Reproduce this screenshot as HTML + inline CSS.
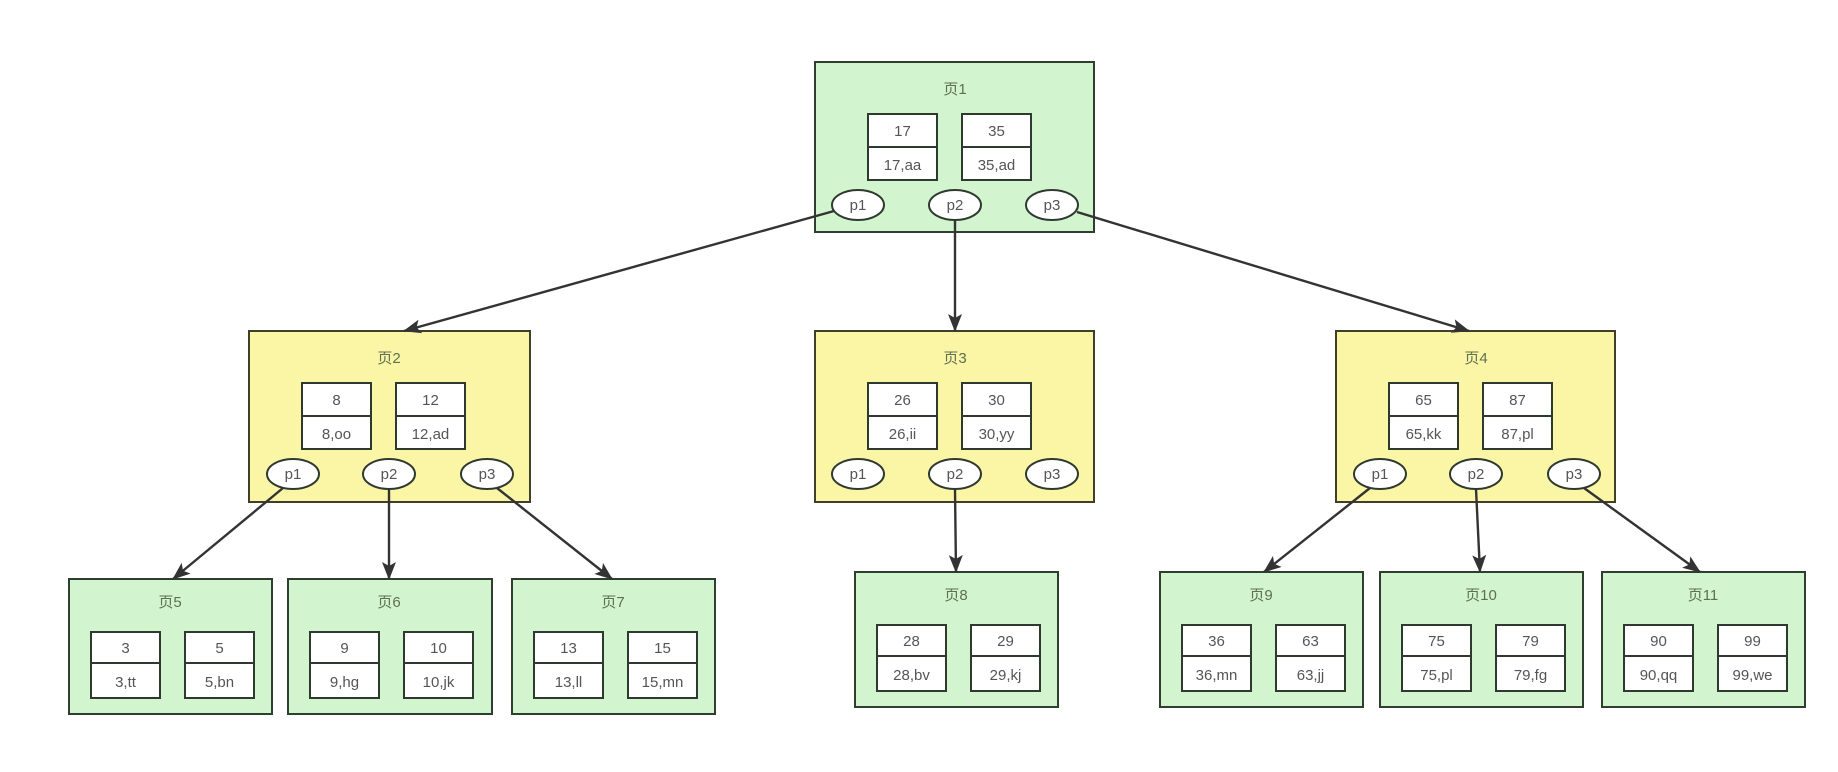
<!DOCTYPE html>
<html><head><meta charset="utf-8"><style>
html,body{margin:0;padding:0;background:#fff;width:1838px;height:772px;overflow:hidden}
svg text{font-family:"Liberation Sans","Noto Sans CJK SC",sans-serif;font-size:15px;fill:#555;text-anchor:middle}
.t{fill:#5d7050}
.g{fill:#d2f5cf;stroke:#2f3f2f;stroke-width:2}
.y{fill:#fbf6a6;stroke:#3f3f2a;stroke-width:2}
.c{fill:#fff;stroke:#2f3a2f;stroke-width:2}
.e{stroke:#2f3a2f;stroke-width:2}
.l{stroke:#333;stroke-width:2.4;fill:none}
</style></head><body>
<svg width="1838" height="772" viewBox="0 0 1838 772" xmlns="http://www.w3.org/2000/svg">
<defs>
<marker id="a" markerWidth="18" markerHeight="14" refX="17" refY="7" orient="auto" markerUnits="userSpaceOnUse"><path d="M0,0 L18,7 L0,14 L4,7 Z" fill="#333"/></marker>
</defs>

<!-- page 1 -->
<g transform="translate(815,62)">
<rect class="g" x="0" y="0" width="279" height="170"/>
<text class="t" x="140" y="32">页1</text>
<rect class="c" x="53" y="52" width="69" height="66"/><line class="e" x1="53" y1="85" x2="122" y2="85"/>
<rect class="c" x="147" y="52" width="69" height="66"/><line class="e" x1="147" y1="85" x2="216" y2="85"/>
<text x="87.5" y="74">17</text><text x="87.5" y="108">17,aa</text>
<text x="181.5" y="74">35</text><text x="181.5" y="108">35,ad</text>
<ellipse class="c" cx="43" cy="143" rx="26" ry="15"/><text x="43" y="148">p1</text>
<ellipse class="c" cx="140" cy="143" rx="26" ry="15"/><text x="140" y="148">p2</text>
<ellipse class="c" cx="237" cy="143" rx="26" ry="15"/><text x="237" y="148">p3</text>
</g>

<!-- page 2 -->
<g transform="translate(249,331)">
<rect class="y" x="0" y="0" width="281" height="171"/>
<text class="t" x="140" y="32">页2</text>
<rect class="c" x="53" y="52" width="69" height="66"/><line class="e" x1="53" y1="85" x2="122" y2="85"/>
<rect class="c" x="147" y="52" width="69" height="66"/><line class="e" x1="147" y1="85" x2="216" y2="85"/>
<text x="87.5" y="74">8</text><text x="87.5" y="108">8,oo</text>
<text x="181.5" y="74">12</text><text x="181.5" y="108">12,ad</text>
<ellipse class="c" cx="44" cy="143" rx="26" ry="15"/><text x="44" y="148">p1</text>
<ellipse class="c" cx="140" cy="143" rx="26" ry="15"/><text x="140" y="148">p2</text>
<ellipse class="c" cx="238" cy="143" rx="26" ry="15"/><text x="238" y="148">p3</text>
</g>

<!-- page 3 -->
<g transform="translate(815,331)">
<rect class="y" x="0" y="0" width="279" height="171"/>
<text class="t" x="140" y="32">页3</text>
<rect class="c" x="53" y="52" width="69" height="66"/><line class="e" x1="53" y1="85" x2="122" y2="85"/>
<rect class="c" x="147" y="52" width="69" height="66"/><line class="e" x1="147" y1="85" x2="216" y2="85"/>
<text x="87.5" y="74">26</text><text x="87.5" y="108">26,ii</text>
<text x="181.5" y="74">30</text><text x="181.5" y="108">30,yy</text>
<ellipse class="c" cx="43" cy="143" rx="26" ry="15"/><text x="43" y="148">p1</text>
<ellipse class="c" cx="140" cy="143" rx="26" ry="15"/><text x="140" y="148">p2</text>
<ellipse class="c" cx="237" cy="143" rx="26" ry="15"/><text x="237" y="148">p3</text>
</g>

<!-- page 4 -->
<g transform="translate(1336,331)">
<rect class="y" x="0" y="0" width="279" height="171"/>
<text class="t" x="140" y="32">页4</text>
<rect class="c" x="53" y="52" width="69" height="66"/><line class="e" x1="53" y1="85" x2="122" y2="85"/>
<rect class="c" x="147" y="52" width="69" height="66"/><line class="e" x1="147" y1="85" x2="216" y2="85"/>
<text x="87.5" y="74">65</text><text x="87.5" y="108">65,kk</text>
<text x="181.5" y="74">87</text><text x="181.5" y="108">87,pl</text>
<ellipse class="c" cx="44" cy="143" rx="26" ry="15"/><text x="44" y="148">p1</text>
<ellipse class="c" cx="140" cy="143" rx="26" ry="15"/><text x="140" y="148">p2</text>
<ellipse class="c" cx="238" cy="143" rx="26" ry="15"/><text x="238" y="148">p3</text>
</g>

<!-- leaves -->
<g transform="translate(69,579)">
<rect class="g" x="0" y="0" width="203" height="135"/><text class="t" x="101" y="28">页5</text>
<rect class="c" x="22" y="53" width="69" height="66"/><line class="e" x1="22" y1="84" x2="91" y2="84"/>
<rect class="c" x="116" y="53" width="69" height="66"/><line class="e" x1="116" y1="84" x2="185" y2="84"/>
<text x="56.5" y="74">3</text><text x="56.5" y="108">3,tt</text>
<text x="150.5" y="74">5</text><text x="150.5" y="108">5,bn</text>
</g>
<g transform="translate(288,579)">
<rect class="g" x="0" y="0" width="204" height="135"/><text class="t" x="101" y="28">页6</text>
<rect class="c" x="22" y="53" width="69" height="66"/><line class="e" x1="22" y1="84" x2="91" y2="84"/>
<rect class="c" x="116" y="53" width="69" height="66"/><line class="e" x1="116" y1="84" x2="185" y2="84"/>
<text x="56.5" y="74">9</text><text x="56.5" y="108">9,hg</text>
<text x="150.5" y="74">10</text><text x="150.5" y="108">10,jk</text>
</g>
<g transform="translate(512,579)">
<rect class="g" x="0" y="0" width="203" height="135"/><text class="t" x="101" y="28">页7</text>
<rect class="c" x="22" y="53" width="69" height="66"/><line class="e" x1="22" y1="84" x2="91" y2="84"/>
<rect class="c" x="116" y="53" width="69" height="66"/><line class="e" x1="116" y1="84" x2="185" y2="84"/>
<text x="56.5" y="74">13</text><text x="56.5" y="108">13,ll</text>
<text x="150.5" y="74">15</text><text x="150.5" y="108">15,mn</text>
</g>
<g transform="translate(855,572)">
<rect class="g" x="0" y="0" width="203" height="135"/><text class="t" x="101" y="28">页8</text>
<rect class="c" x="22" y="53" width="69" height="66"/><line class="e" x1="22" y1="84" x2="91" y2="84"/>
<rect class="c" x="116" y="53" width="69" height="66"/><line class="e" x1="116" y1="84" x2="185" y2="84"/>
<text x="56.5" y="74">28</text><text x="56.5" y="108">28,bv</text>
<text x="150.5" y="74">29</text><text x="150.5" y="108">29,kj</text>
</g>
<g transform="translate(1160,572)">
<rect class="g" x="0" y="0" width="203" height="135"/><text class="t" x="101" y="28">页9</text>
<rect class="c" x="22" y="53" width="69" height="66"/><line class="e" x1="22" y1="84" x2="91" y2="84"/>
<rect class="c" x="116" y="53" width="69" height="66"/><line class="e" x1="116" y1="84" x2="185" y2="84"/>
<text x="56.5" y="74">36</text><text x="56.5" y="108">36,mn</text>
<text x="150.5" y="74">63</text><text x="150.5" y="108">63,jj</text>
</g>
<g transform="translate(1380,572)">
<rect class="g" x="0" y="0" width="203" height="135"/><text class="t" x="101" y="28">页10</text>
<rect class="c" x="22" y="53" width="69" height="66"/><line class="e" x1="22" y1="84" x2="91" y2="84"/>
<rect class="c" x="116" y="53" width="69" height="66"/><line class="e" x1="116" y1="84" x2="185" y2="84"/>
<text x="56.5" y="74">75</text><text x="56.5" y="108">75,pl</text>
<text x="150.5" y="74">79</text><text x="150.5" y="108">79,fg</text>
</g>
<g transform="translate(1602,572)">
<rect class="g" x="0" y="0" width="203" height="135"/><text class="t" x="101" y="28">页11</text>
<rect class="c" x="22" y="53" width="69" height="66"/><line class="e" x1="22" y1="84" x2="91" y2="84"/>
<rect class="c" x="116" y="53" width="69" height="66"/><line class="e" x1="116" y1="84" x2="185" y2="84"/>
<text x="56.5" y="74">90</text><text x="56.5" y="108">90,qq</text>
<text x="150.5" y="74">99</text><text x="150.5" y="108">99,we</text>
</g>

<!-- connectors (drawn on top) -->
<line class="l" x1="834" y1="211" x2="404" y2="331" marker-end="url(#a)"/>
<line class="l" x1="955" y1="220" x2="955" y2="331" marker-end="url(#a)"/>
<line class="l" x1="1077" y1="212" x2="1469" y2="331" marker-end="url(#a)"/>
<line class="l" x1="283" y1="488" x2="173" y2="579" marker-end="url(#a)"/>
<line class="l" x1="389" y1="489" x2="389" y2="579" marker-end="url(#a)"/>
<line class="l" x1="497" y1="488" x2="612" y2="579" marker-end="url(#a)"/>
<line class="l" x1="955" y1="489" x2="956" y2="572" marker-end="url(#a)"/>
<line class="l" x1="1370" y1="488" x2="1264" y2="572" marker-end="url(#a)"/>
<line class="l" x1="1476" y1="489" x2="1480" y2="572" marker-end="url(#a)"/>
<line class="l" x1="1584" y1="488" x2="1700" y2="572" marker-end="url(#a)"/>
</svg>
</body></html>
